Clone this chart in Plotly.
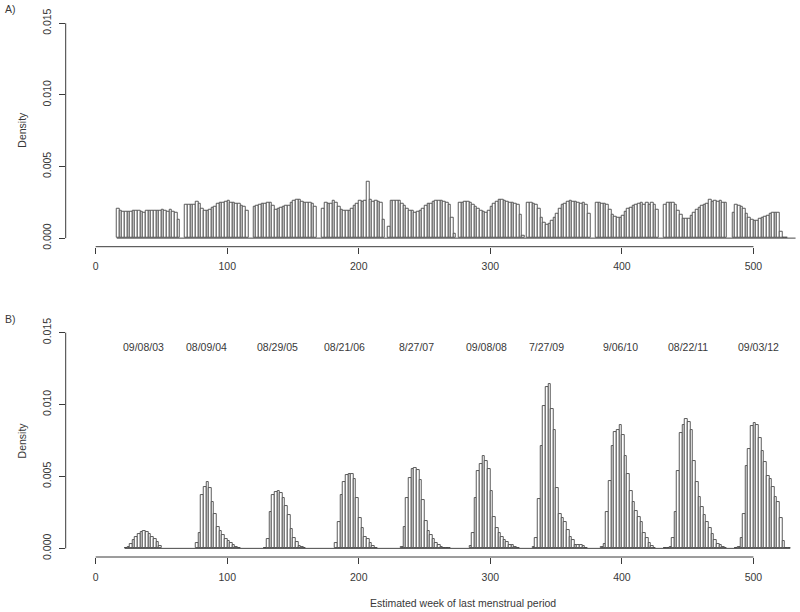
import plotly.graph_objects as go

# ---------------- data ----------------
BIN_WIDTH = 2  # weeks per histogram bin

# Panel A: estimated week of LMP, all births (density per 2-week bin), one list per year block
a_starts = [16, 68, 120, 172, 224, 276, 328, 380, 432, 484]
a_2003 = [0.00203, 0.00191, 0.00186, 0.00184, 0.00184, 0.00186, 0.00189, 0.00191, 0.00189, 0.00186,
          0.00179, 0.00189, 0.00193, 0.00189, 0.00191, 0.00191, 0.00193, 0.00196, 0.00189, 0.00184,
          0.00196, 0.00182, 0.00179, 0.00126]
a_2004 = [0.00235, 0.00235, 0.00235, 0.00235, 0.00252, 0.00238, 0.00205, 0.00189, 0.00189, 0.00196,
          0.00210, 0.00221, 0.00238, 0.00245, 0.00249, 0.00252, 0.00261, 0.00249, 0.00245, 0.00240,
          0.00238, 0.00228, 0.00219, 0.00191]
a_2005 = [0.00217, 0.00226, 0.00233, 0.00240, 0.00240, 0.00247, 0.00247, 0.00224, 0.00196, 0.00205,
          0.00214, 0.00219, 0.00224, 0.00228, 0.00245, 0.00259, 0.00265, 0.00270, 0.00254, 0.00249,
          0.00249, 0.00249, 0.00242, 0.00217]
a_2006 = [0.00205, 0.00249, 0.00242, 0.00242, 0.00263, 0.00245, 0.00217, 0.00196, 0.00189, 0.00189,
          0.00189, 0.00205, 0.00224, 0.00238, 0.00261, 0.00254, 0.00261, 0.00396, 0.00270, 0.00254,
          0.00259, 0.00254, 0.00247, 0.00130, 0.0, 0.00077]
a_2007 = [0.00259, 0.00263, 0.00261, 0.00259, 0.00242, 0.00226, 0.00207, 0.00193, 0.00189, 0.00179,
          0.00184, 0.00193, 0.00207, 0.00226, 0.00242, 0.00242, 0.00254, 0.00263, 0.00263, 0.00259,
          0.00254, 0.00249, 0.00235, 0.00144, 0.00030]
a_2008 = [0.00247, 0.00247, 0.00254, 0.00254, 0.00249, 0.00235, 0.00217, 0.00203, 0.00191, 0.00184,
          0.00179, 0.00191, 0.00217, 0.00240, 0.00254, 0.00265, 0.00265, 0.00259, 0.00254, 0.00249,
          0.00249, 0.00238, 0.00231, 0.00160, 0.00020]
a_2009 = [0.00247, 0.00247, 0.00238, 0.00231, 0.00207, 0.00142, 0.00107, 0.00095, 0.00100, 0.00121,
          0.00144, 0.00172, 0.00207, 0.00231, 0.00242, 0.00254, 0.00259, 0.00257, 0.00254, 0.00247,
          0.00242, 0.00245, 0.00231, 0.00172]
a_2010 = [0.00247, 0.00247, 0.00242, 0.00242, 0.00235, 0.00196, 0.00165, 0.00149, 0.00142, 0.00144,
          0.00154, 0.00184, 0.00207, 0.00214, 0.00228, 0.00233, 0.00242, 0.00247, 0.00235, 0.00247,
          0.00235, 0.00247, 0.00231, 0.00200]
a_2011 = [0.00230, 0.00247, 0.00247, 0.00247, 0.00231, 0.00190, 0.00161, 0.00137, 0.00137, 0.00137,
          0.00156, 0.00177, 0.00196, 0.00212, 0.00224, 0.00235, 0.00240, 0.00265, 0.00254, 0.00259,
          0.00254, 0.00259, 0.00249, 0.00249]
a_2012 = [0.00180, 0.00230, 0.00226, 0.00219, 0.00203, 0.00172, 0.00142, 0.00126, 0.00121, 0.00121,
          0.00137, 0.00142, 0.00149, 0.00156, 0.00172, 0.00180, 0.00180, 0.00177, 0.00044, 0.00005,
          0.00005]
a_range = (16, 532)

# Panel B: influenza vaccination-season subset, one list per peak
b_starts = [22, 76, 128, 182, 232, 284, 332, 384, 432, 486]
b_2003 = [0.00003, 0.00012, 0.00030, 0.00058, 0.00080, 0.00097, 0.00114, 0.00118, 0.00114, 0.00102,
          0.00078, 0.00063, 0.00042, 0.00019]
b_2004 = [0.00040, 0.00110, 0.00370, 0.00430, 0.00460, 0.00420, 0.00320, 0.00240, 0.00150, 0.00120,
          0.00090, 0.00062, 0.00048, 0.00035, 0.00020, 0.00010, 0.00004]
b_2005 = [0.00005, 0.00068, 0.00250, 0.00370, 0.00390, 0.00400, 0.00385, 0.00350, 0.00295, 0.00230,
          0.00135, 0.00075, 0.00042, 0.00018, 0.00008, 0.00004]
b_2006 = [0.00040, 0.00185, 0.00370, 0.00460, 0.00510, 0.00520, 0.00515, 0.00480, 0.00350, 0.00210,
          0.00140, 0.00080, 0.00068, 0.00040, 0.00016, 0.00006]
b_2007 = [0.00010, 0.00150, 0.00350, 0.00490, 0.00550, 0.00560, 0.00545, 0.00475, 0.00335, 0.00190,
          0.00120, 0.00095, 0.00068, 0.00040, 0.00023, 0.00012, 0.00005, 0.00005, 0.00005]
b_2008 = [0.00014, 0.00110, 0.00350, 0.00540, 0.00590, 0.00640, 0.00610, 0.00550, 0.00400, 0.00220,
          0.00140, 0.00110, 0.00080, 0.00056, 0.00044, 0.00026, 0.00024, 0.00010, 0.00005]
b_2009 = [0.00010, 0.00070, 0.00340, 0.00710, 0.00990, 0.01120, 0.01140, 0.00970, 0.00820, 0.00420,
          0.00240, 0.00210, 0.00180, 0.00130, 0.00080, 0.00060, 0.00023, 0.00020, 0.00020, 0.00016,
          0.00005]
b_2010 = [0.00010, 0.00030, 0.00250, 0.00470, 0.00710, 0.00810, 0.00820, 0.00860, 0.00790, 0.00640,
          0.00520, 0.00400, 0.00320, 0.00260, 0.00220, 0.00180, 0.00110, 0.00070, 0.00040, 0.00018,
          0.00006]
b_2011 = [0.00005, 0.00005, 0.00010, 0.00070, 0.00250, 0.00540, 0.00800, 0.00860, 0.00900, 0.00880,
          0.00820, 0.00610, 0.00460, 0.00360, 0.00290, 0.00230, 0.00180, 0.00140, 0.00100, 0.00060,
          0.00030, 0.00020, 0.00010, 0.00005]
b_2012 = [0.00005, 0.00010, 0.00070, 0.00240, 0.00570, 0.00690, 0.00850, 0.00870, 0.00860, 0.00770,
          0.00680, 0.00600, 0.00500, 0.00480, 0.00430, 0.00360, 0.00320, 0.00210, 0.00050, 0.00005,
          0.00005]
b_range = (22, 528)

season_labels = ["09/08/03", "08/09/04", "08/29/05", "08/21/06", "8/27/07",
                 "09/08/08", "7/27/09", "9/06/10", "08/22/11", "09/03/12"]
season_label_weeks = [36, 84, 138, 189.5, 244, 297, 343, 399, 450, 504]
season_label_y = 0.014

x_ticks = [0, 100, 200, 300, 400, 500]
y_ticks = [0.0, 0.005, 0.010, 0.015]

a_blocks = [a_2003, a_2004, a_2005, a_2006, a_2007, a_2008, a_2009, a_2010, a_2011, a_2012]
b_blocks = [b_2003, b_2004, b_2005, b_2006, b_2007, b_2008, b_2009, b_2010, b_2011, b_2012]


def bins_from_blocks(starts, blocks):
    xs, ys = [], []
    for s, hs in zip(starts, blocks):
        for i, h in enumerate(hs):
            if h > 0:
                xs.append(s + BIN_WIDTH * i + BIN_WIDTH / 2)
                ys.append(h)
    return xs, ys


# ---------------- figure ----------------
W, H = 800, 612
INK = "#474747"
AXIS = "#3a3a3a"
TXT = "#383838"
FONT = "Liberation Sans, Arial, sans-serif"
FS = 10.5

fig = go.Figure()

for (starts, blocks, rng, xa, ya) in [(a_starts, a_blocks, a_range, "x", "y"),
                                      (b_starts, b_blocks, b_range, "x2", "y2")]:
    bx, by = bins_from_blocks(starts, blocks)
    fig.add_trace(go.Bar(x=bx, y=by, width=BIN_WIDTH, xaxis=xa, yaxis=ya,
                         marker=dict(color="white", line=dict(color=INK, width=0.9)),
                         showlegend=False, hoverinfo="x+y"))
    fig.add_trace(go.Scatter(x=[rng[0], rng[1]], y=[0, 0], mode="lines", xaxis=xa, yaxis=ya,
                             line=dict(color=INK, width=1), showlegend=False, hoverinfo="skip"))

x_left_px, x0_px, px_per_unit = 65.7, 95.7, 1.3155
x_range = [(x_left_px - x0_px) / px_per_unit, (W - x0_px) / px_per_unit]
y_range = [-0.0006, 0.0156]


def xaxis_cfg(anchor):
    return dict(domain=[x_left_px / W, 1], range=x_range, anchor=anchor,
                tickvals=x_ticks, ticks="outside", ticklen=6, tickwidth=1, tickcolor=AXIS,
                showline=False, showgrid=False, zeroline=False, automargin=False,
                tickfont=dict(family=FONT, size=FS, color=TXT), ticklabelstandoff=4)


def yaxis_cfg(anchor, top_px, bot_px):
    return dict(domain=[1 - bot_px / H, 1 - top_px / H], range=y_range, anchor=anchor,
                tickvals=y_ticks, tickformat=".3f", tickangle=-90,
                ticks="outside", ticklen=6, tickwidth=1, tickcolor=AXIS,
                showline=False, showgrid=False, zeroline=False, automargin=False,
                tickfont=dict(family=FONT, size=FS, color=TXT), ticklabelstandoff=4)


A_TOP, A_BOT = 14.7, 246.7
B_TOP, B_BOT = 324.0, 557.0

shapes = []
for xa, ya in [("x", "y"), ("x2", "y2")]:
    shapes.append(dict(type="line", xref=xa, yref=ya + " domain", x0=x_ticks[0], x1=x_ticks[-1],
                       y0=0, y1=0, line=dict(color=AXIS, width=1)))
    shapes.append(dict(type="line", xref=xa + " domain", yref=ya, x0=0, x1=0,
                       y0=y_ticks[0], y1=y_ticks[-1], line=dict(color=AXIS, width=1)))

annotations = [
    dict(text="A)", xref="paper", yref="paper", x=3 / W, y=1 - 9.5 / H,
         xanchor="left", yanchor="middle", showarrow=False, font=dict(family=FONT, size=FS, color=TXT)),
    dict(text="B)", xref="paper", yref="paper", x=3 / W, y=1 - 319 / H,
         xanchor="left", yanchor="middle", showarrow=False, font=dict(family=FONT, size=FS, color=TXT)),
    dict(text="Density", xref="paper", yref="paper", x=21.7 / W, y=1 - 130 / H, textangle=-90,
         xanchor="center", yanchor="middle", showarrow=False, font=dict(family=FONT, size=FS, color=TXT)),
    dict(text="Density", xref="paper", yref="paper", x=21.7 / W, y=1 - 440.7 / H, textangle=-90,
         xanchor="center", yanchor="middle", showarrow=False, font=dict(family=FONT, size=FS, color=TXT)),
    dict(text="Estimated week of last menstrual period", xref="paper", yref="paper",
         x=463 / W, y=1 - 603.3 / H, xanchor="center", yanchor="middle", showarrow=False,
         font=dict(family=FONT, size=FS, color=TXT)),
]
for lab, wk in zip(season_labels, season_label_weeks):
    annotations.append(dict(text=lab, xref="x2", yref="y2", x=wk, y=season_label_y,
                            xanchor="center", yanchor="middle", showarrow=False,
                            font=dict(family=FONT, size=FS, color=TXT)))

fig.update_layout(
    width=W, height=H, margin=dict(l=0, r=0, t=0, b=0, autoexpand=False),
    paper_bgcolor="white", plot_bgcolor="white",
    xaxis=xaxis_cfg("y"), yaxis=yaxis_cfg("x", A_TOP, A_BOT),
    xaxis2=xaxis_cfg("y2"), yaxis2=yaxis_cfg("x2", B_TOP, B_BOT),
    shapes=shapes, annotations=annotations, bargap=0, showlegend=False,
)

fig.write_html("out.html",
               config={"displayModeBar": False},
               post_script="document.body.style.margin='0';document.body.style.padding='0';"
                           "document.body.style.overflow='hidden';")
